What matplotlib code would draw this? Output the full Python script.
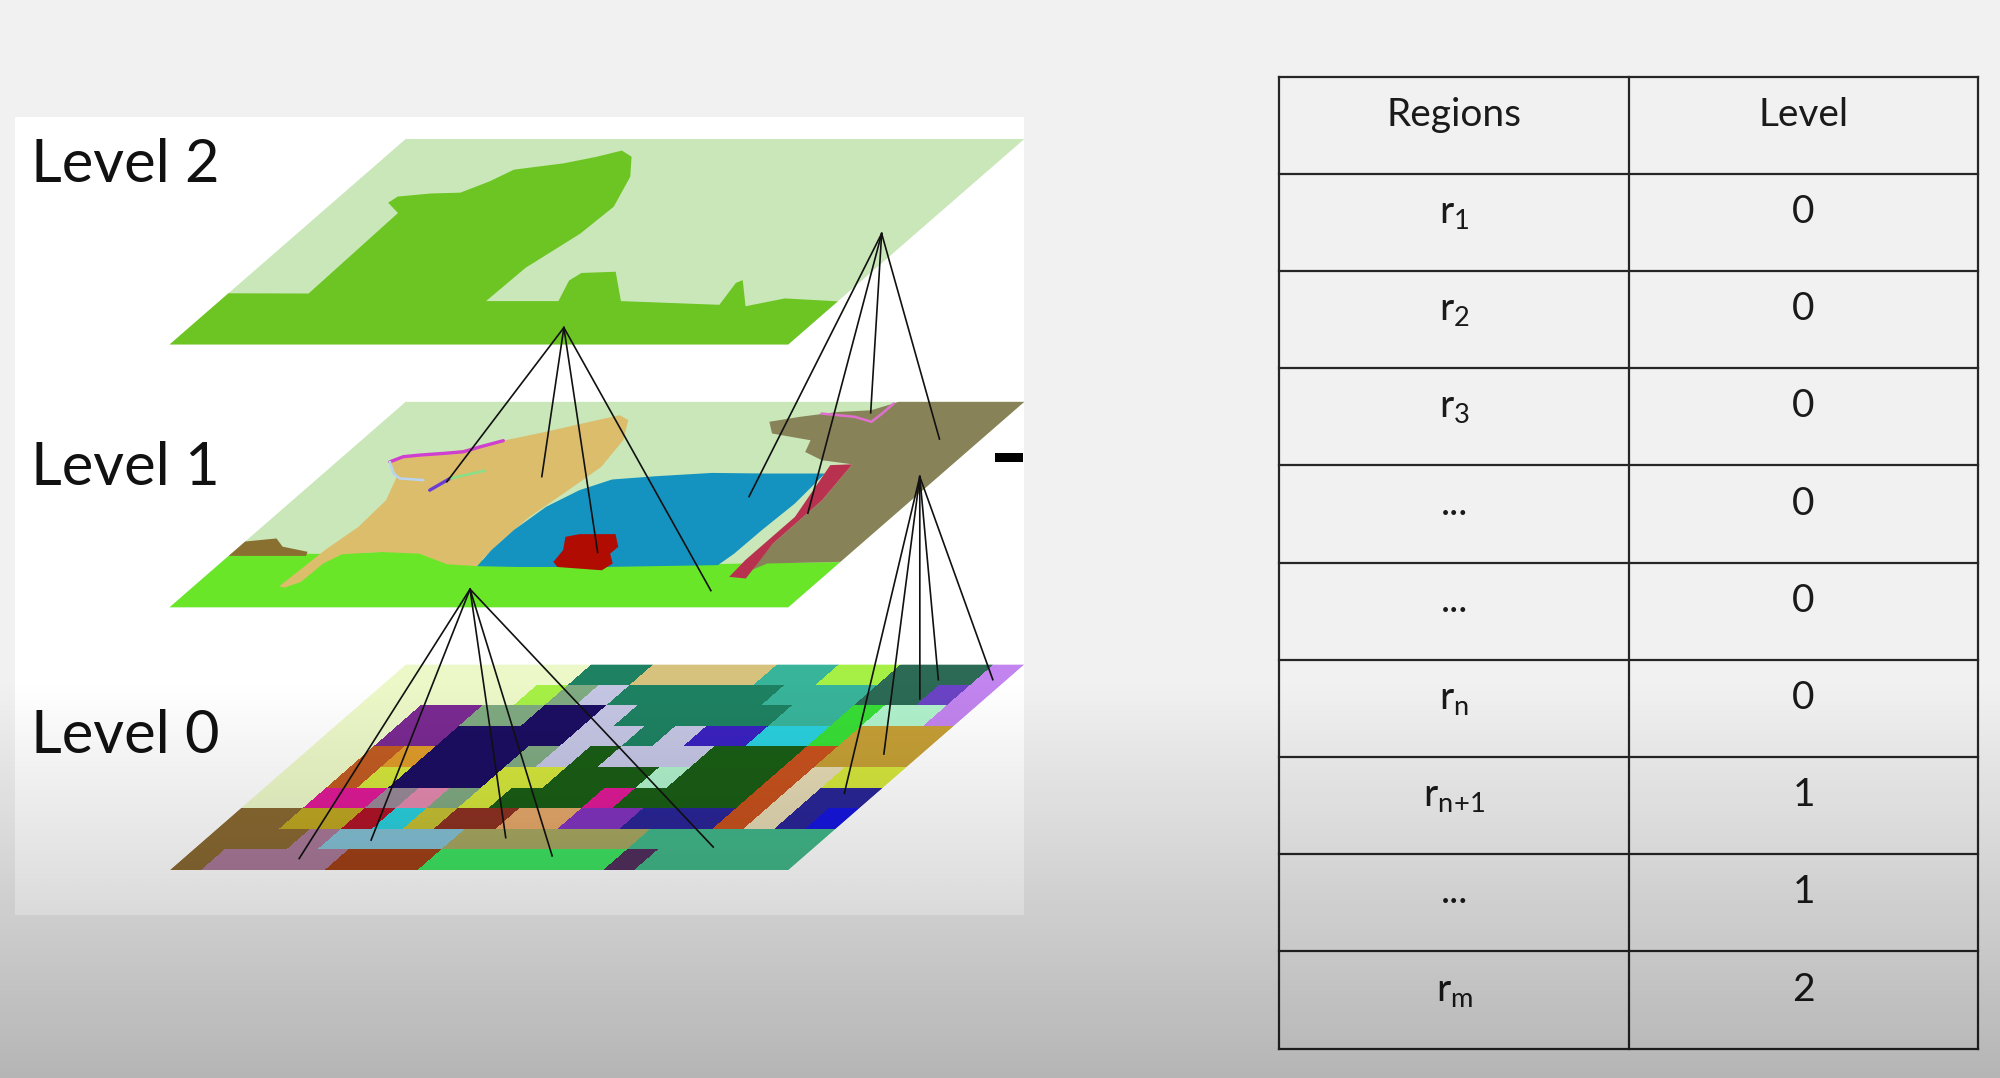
import numpy as np
import matplotlib.pyplot as plt
from matplotlib.patches import Polygon, Rectangle
from matplotlib.transforms import Affine2D
from matplotlib.colors import to_rgba

plt.rcParams['font.family'] = ['Lato', 'DejaVu Sans']
plt.rcParams['mathtext.fontset'] = 'custom'
plt.rcParams['mathtext.rm'] = 'Lato'
plt.rcParams['mathtext.it'] = 'Lato:italic'

# ---- table data ----
table_header = ["Regions", "Level"]
region_names = [r"r$_{\mathrm{1}}$", r"r$_{\mathrm{2}}$", r"r$_{\mathrm{3}}$", "...", "...",
                r"r$_{\mathrm{n}}$", r"r$_{\mathrm{n\!+\!1}}$", "...", r"r$_{\mathrm{m}}$"]
region_levels = [0, 0, 0, 0, 0, 0, 1, 1, 2]

level_names = ["Level 2", "Level 1", "Level 0"]

# ---- segmentation shapes, in plane coords (u across, v from front to back) ----
# level 2: one big region (the dog + ground) over light background
lvl2_region = [(0, 0), (1, 0), (1, 0.21), (0.909, 0.224), (0.86, 0.186), (0.807, 0.313),
               (0.801, 0.30), (0.815, 0.193), (0.649, 0.211), (0.586, 0.354), (0.533, 0.348),
               (0.527, 0.311), (0.548, 0.211), (0.431, 0.211), (0.433, 0.373), (0.458, 0.54),
               (0.462, 0.671), (0.433, 0.817), (0.398, 0.914), (0.371, 0.944), (0.342, 0.914),
               (0.301, 0.882), (0.232, 0.851), (0.214, 0.793), (0.188, 0.739), (0.142, 0.735),
               (0.094, 0.72), (0.090, 0.69), (0.125, 0.64), (0.13, 0.248), (0, 0.249)]

# level 1 regions
lvl1_grass = [(0, 0), (1, 0), (1, 0.22), (0.88, 0.215), (0.8, 0.21), (0.62, 0.2), (0.44, 0.205),
              (0.39, 0.26), (0.3, 0.275), (0.15, 0.26), (0.09, 0.26), (0, 0.25)]
lvl1_brown = [(0, 0.25), (0, 0.32), (0.045, 0.335), (0.07, 0.295), (0.12, 0.27), (0.125, 0.25)]
lvl1_dog = [(0.138, 0.102), (0.142, 0.196), (0.145, 0.281), (0.156, 0.391), (0.151, 0.521),
            (0.125, 0.635), (0.086, 0.708), (0.098, 0.733), (0.157, 0.749), (0.204, 0.781),
            (0.230, 0.811), (0.282, 0.854), (0.335, 0.903), (0.371, 0.935), (0.394, 0.911),
            (0.423, 0.813), (0.437, 0.683), (0.427, 0.57), (0.414, 0.44), (0.413, 0.326),
            (0.416, 0.237), (0.421, 0.20), (0.369, 0.209), (0.304, 0.261), (0.238, 0.269),
            (0.18, 0.258), (0.167, 0.213), (0.165, 0.123), (0.149, 0.096)]
lvl1_water = [(0.421, 0.2), (0.414, 0.278), (0.413, 0.375), (0.422, 0.489), (0.445, 0.57),
              (0.478, 0.622), (0.543, 0.638), (0.627, 0.654), (0.717, 0.651), (0.811, 0.651),
              (0.818, 0.505), (0.814, 0.375), (0.813, 0.261), (0.808, 0.205), (0.624, 0.196),
              (0.49, 0.196)]
lvl1_red = [(0.509, 0.343), (0.527, 0.356), (0.585, 0.356), (0.613, 0.294), (0.6125, 0.261),
            (0.635, 0.213), (0.63, 0.18), (0.552, 0.196), (0.536, 0.221), (0.53, 0.278)]
lvl1_stripe = [(0.848, 0.148), (0.843, 0.229), (0.843, 0.44), (0.804, 0.692), (0.838, 0.696),
               (0.856, 0.521), (0.857, 0.31), (0.878, 0.14)]
lvl1_olive = [(0.625, 0.903), (0.665, 0.927), (0.718, 0.951), (0.768, 0.959), (0.786, 0.984),
              (0.797, 1.0), (1.0, 1.0), (1.0, 0.221), (0.885, 0.213), (0.871, 0.18),
              (0.857, 0.31), (0.856, 0.521), (0.838, 0.696), (0.781, 0.716), (0.739, 0.756),
              (0.726, 0.813), (0.651, 0.846)]
# thin outlines around the dog's back
lvl1_ring_top = [(0.086, 0.708), (0.098, 0.733), (0.122, 0.741), (0.157, 0.749),
                 (0.186, 0.757), (0.204, 0.781), (0.230, 0.811)]
lvl1_ring_low = [(0.086, 0.708), (0.113, 0.652), (0.133, 0.627), (0.174, 0.619)]
lvl1_streak_purple = [(0.203, 0.570), (0.214, 0.627)]
lvl1_streak_green = [(0.214, 0.627), (0.256, 0.665)]
lvl1_olive_rim = [(0.694, 0.943), (0.754, 0.927), (0.79, 0.903), (0.792, 0.943), (0.792, 0.992)]

lvl0_grid = [
    "PPPPPPTTKKKKMMLLSSSV",
    "PPPPPLGWTTTTTMMMSSUV",
    "PPXXGGNNWTTTTTMMEIIV",
    "PPXXNNNNWWTWBBCCEDDD",
    "PPOANNNGWHWWWHHHQDDD",
    "PPOYNNNYYHHHIHHHQZYY",
    "PPFFJkGYHHHFHHHHQZnn",
    "zzeeRCyqqttppnnnQZnb",
    "zzzmllllhhhhhhssssss",
    "zmmmmwwwggggggdsssss",
]
lvl0_palette = {
    'P': '#ecf8c8', 'T': '#1e8262', 'K': '#d6c27c', 'M': '#38b49a', 'L': '#a6f046',
    'S': '#2c6a56', 'V': '#c284ee', 'G': '#80aa82', 'W': '#c4c6e4', 'E': '#38de36',
    'I': '#b0f2cc', 'U': '#6a44c4', 'X': '#7a2a92', 'N': '#1c0e62', 'B': '#3a22c0',
    'C': '#2ad0de', 'D': '#c6a036', 'O': '#c25c22', 'A': '#e09c2a', 'Y': '#d4e63c',
    'H': '#1a5e16', 'Q': '#c8521e', 'Z': '#e6dab4', 'F': '#e01a98', 'J': '#9a8a98',
    'k': '#e48ab0', 'R': '#b01428', 'y': '#c6c034', 'q': '#8e3222', 't': '#e6a86a',
    'p': '#8234c0', 'n': '#2a2698', 'b': '#1616e0', 'm': '#aa7a9a', 'l': '#84c2d6',
    'h': '#a8a862', 's': '#42b88a', 'w': '#a24218', 'g': '#3ee462', 'd': '#52305e',
    'z': '#8a6a32', 'e': '#c0a822',
}

# links between a parent region (upper level) and its child regions (lower level)
# (upper level index, apex uv, lower level index, child uv list)
links = [
    (0, (0.606, 0.082), 1, [(0.215, 0.611), (0.359, 0.636), (0.590, 0.267), (0.844, 0.081)]),
    (0, (0.945, 0.540), 1, [(0.731, 0.539), (0.857, 0.458), (0.772, 0.947), (0.932, 0.819)]),
    (1, (0.452, 0.088), 2, [(0.188, 0.056), (0.270, 0.146), (0.483, 0.158), (0.592, 0.069),
                            (0.836, 0.112)]),
    (1, (0.970, 0.636), 2, [(0.948, 0.374), (0.939, 0.565), (0.895, 0.833), (0.889, 0.927),
                            (0.977, 0.927)]),
]

# ---- layout (in 1568 x 845 reference units) ----
W, H = 1568, 845
level_tops = [109, 315, 521]
PX0, PW, PSHEAR, PH = 133, 485, 185, 161
UNIT_SQUARE = [(0, 0), (1, 0), (1, 1), (0, 1)]


def plane_affine(top):
    return Affine2D.from_values(PW, 0, PSHEAR, -PH, PX0, top + PH)


fig = plt.figure(figsize=(20, 10.78), dpi=100, facecolor='#f1f1f1')
ax = fig.add_axes([0, 0, 1, 1])
ax.set_facecolor('#f1f1f1')

# white picture box
ax.add_patch(Rectangle((12, 92), 791, 625, facecolor='white', edgecolor='none', zorder=0.5))

# planes
for i, top in enumerate(level_tops):
    tr = plane_affine(top) + ax.transData
    if i == 2:
        rgba = np.array([[to_rgba(lvl0_palette[c]) for c in row] for row in lvl0_grid])
        im = ax.imshow(rgba, extent=(0, 1, 0, 1), origin='upper', interpolation='nearest',
                       transform=tr, aspect='auto', zorder=1)
        clip = Polygon(UNIT_SQUARE, closed=True, transform=tr, facecolor='none',
                       edgecolor='none')
        ax.add_patch(clip)
        im.set_clip_path(clip)
        continue
    ax.add_patch(Polygon(UNIT_SQUARE, closed=True, facecolor='#c9e7b8', edgecolor='none',
                         transform=tr, zorder=1))
    if i == 0:
        ax.add_patch(Polygon(lvl2_region, closed=True, facecolor='#6cc522',
                             edgecolor='none', transform=tr, zorder=1.1))
    else:
        shapes = [(lvl1_grass, '#6ae629'), (lvl1_brown, '#8a7030'), (lvl1_dog, '#dcbd6c'),
                  (lvl1_water, '#1492c0'), (lvl1_red, '#b00c02'), (lvl1_olive, '#888258'),
                  (lvl1_stripe, '#b83250')]
        for pts, col in shapes:
            ax.add_patch(Polygon(pts, closed=True, facecolor=col, edgecolor='none',
                                 transform=tr, zorder=1.1))
        outlines = [(lvl1_ring_top, '#d040d0', 2.4), (lvl1_ring_low, '#b8d4f0', 1.8),
                    (lvl1_streak_purple, '#6a3cd8', 2.4), (lvl1_streak_green, '#86e08a', 1.8),
                    (lvl1_olive_rim, '#e070d0', 1.8)]
        for pts, col, lw in outlines:
            p = np.array(pts)
            ax.plot(p[:, 0], p[:, 1], color=col, lw=lw, transform=tr, zorder=1.2,
                    solid_capstyle='round')

# small black dash at the right of level 1
ax.add_patch(Rectangle((780, 355), 22, 7, facecolor='black', edgecolor='none', zorder=2))

# link lines
for up, apex, low, kids in links:
    a = plane_affine(level_tops[up]).transform([apex])[0]
    for k in plane_affine(level_tops[low]).transform(kids):
        ax.plot([a[0], k[0]], [a[1], k[1]], color='#111111', lw=1.2, zorder=3)

# level labels
for name, base in zip(level_names, [143, 380, 590]):
    ax.text(24, base, name, fontsize=43, color='#111111', ha='left', va='baseline', zorder=4)

# table
tx0, txm, tx1 = 1003, 1277, 1551
ty0, row_h = 60, 76.2
n_rows = len(region_names) + 1
for r in range(n_rows + 1):
    ax.plot([tx0, tx1], [ty0 + r * row_h] * 2, color='#262626', lw=1.6, zorder=4,
            solid_capstyle='projecting')
for x in (tx0, txm, tx1):
    ax.plot([x, x], [ty0, ty0 + n_rows * row_h], color='#262626', lw=1.6, zorder=4,
            solid_capstyle='projecting')

cx1, cx2 = (tx0 + txm) / 2, (txm + tx1) / 2
ax.text(cx1, ty0 + 38.5, table_header[0], fontsize=28, ha='center', va='baseline',
        color='#1a1a1a', zorder=5)
ax.text(cx2, ty0 + 38.5, table_header[1], fontsize=28, ha='center', va='baseline',
        color='#1a1a1a', zorder=5)
for i, (name, lev) in enumerate(zip(region_names, region_levels)):
    base = ty0 + (i + 1) * row_h + 38.5
    ax.text(cx1, base, name, fontsize=28, ha='center', va='baseline', color='#1a1a1a', zorder=5)
    ax.text(cx2, base, str(lev), fontsize=28, ha='center', va='baseline', color='#1a1a1a',
            zorder=5)

# darkening gradient towards the bottom of the frame
n = 200
shade = np.zeros((n, 1, 4))
shade[:, 0, 3] = np.linspace(0, 0.25, n)
ax.imshow(shade, extent=(0, W, H, 533), origin='upper', aspect='auto',
          interpolation='bilinear', zorder=10)

ax.set_xlim(0, W)
ax.set_ylim(H, 0)
ax.axis('off')
fig.savefig('out.png', dpi=100, facecolor=fig.get_facecolor())
